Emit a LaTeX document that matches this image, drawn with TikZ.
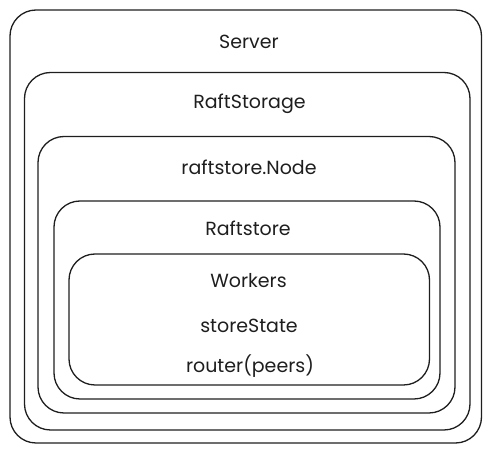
\documentclass[tikz,border=0pt]{standalone}
\usepackage{fontspec}
\setmainfont{Poppins}
\definecolor{ink}{HTML}{1E1E1E}
\begin{document}
\begin{tikzpicture}[x=1pt,y=-1pt,
  box/.style={draw=ink, line width=1.3pt, rounded corners=26pt, inner sep=0pt},
  lbl/.style={text=ink, font=\fontsize{19}{21}\selectfont, inner sep=0pt, anchor=center}]
\useasboundingbox (0,0) rectangle (491,454);
\node[box, minimum width=471.5pt, minimum height=433pt] (server) at (245.75,226.5) {};
\node[box, minimum width=445.5pt, minimum height=357.5pt] (raftstorage) at (247.25,251.25) {};
\node[box, minimum width=417pt, minimum height=276.5pt] (node) at (246.5,274.75) {};
\node[box, minimum width=386pt, minimum height=198pt] (raftstore) at (247,300) {};
\node[box, minimum width=360.5pt, minimum height=131pt] (workers) at (249.25,319.5) {};
\node[lbl] (tserver) at (249,42) {Server};
\node[lbl] (traftstorage) at (249.5,104) {RaftStorage};
\node[lbl] (tnode) at (249,167) {raftstore.Node};
\node[lbl] (traftstore) at (248,228) {Raftstore};
\node[lbl] (tworkers) at (248.5,281) {Workers};
\node[lbl] (tstate) at (249,326) {storeState};
\node[lbl] (trouter) at (250,366) {router(peers)};
\end{tikzpicture}
\end{document}
